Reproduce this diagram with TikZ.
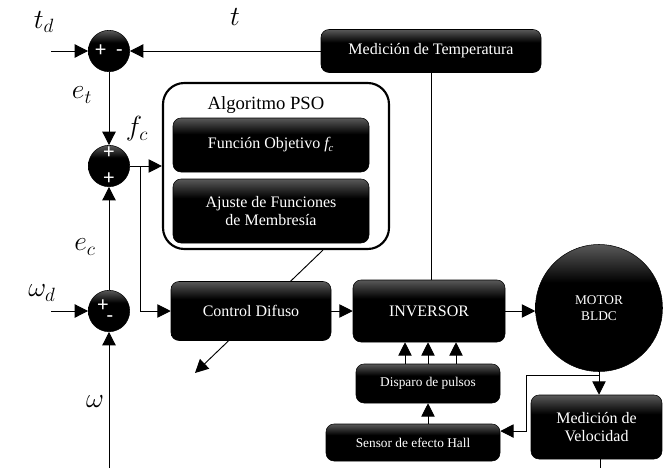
\documentclass[tikz,border=0pt]{standalone}
\usepackage{fontspec}
\setmainfont{Liberation Serif}
\newfontfamily\boxfont{Liberation Serif}
\newfontfamily\signfont{Carlito}
\usetikzlibrary{arrows.meta}
\pgfdeclareverticalshading{blkshade}{100bp}{color(0bp)=(black); color(25bp)=(black); color(60bp)=(black); color(75bp)=(black!65); color(100bp)=(black!65)}

\begin{document}
\begin{tikzpicture}[
  x=0.75pt, y=-0.75pt,
  blk/.style={draw=black, shading=blkshade, rounded corners=6pt, text=white, align=center, inner sep=0pt, font=\boxfont\fontsize{12}{13.5}\selectfont},
  sumnode/.style={circle, draw=black, shading=blkshade, minimum size=31pt, inner sep=0pt, text=white, align=center, font=\signfont\fontsize{16}{19.5}\selectfont},
  lbl/.style={font=\fontsize{20}{22}\selectfont},
  arrow/.style={-{Triangle[length=10pt,width=10pt]}, line width=0.7pt},
  line/.style={line width=0.7pt}
]
\useasboundingbox (0,0) rectangle (663,468);

% sumadores
\node[sumnode] (sum1) at (109,51) {+\hspace{7.5pt}-};
\node[sumnode] (sum2) at (109,166) {+\\+};
\node[sumnode, font=\signfont\fontsize{16}{8.5}\selectfont] (sum3) at (109,311) {+\hspace*{9pt}\\\hspace*{1.5pt}-};

% bloques
\node[blk, minimum width=165pt, minimum height=32.25pt] (temp) at (431,51) {Medici\'on de Temperatura};
\node[draw, line width=1.6pt, rounded corners=16pt, minimum width=169.5pt, minimum height=124.5pt] (pso) at (276,166) {};
\node[font=\boxfont\fontsize{14}{16}\selectfont] (psot) at (266,105) {Algoritmo PSO};
\node[blk, minimum width=147pt, minimum height=40.5pt] (fobj) at (271,145) {Funci\'on Objetivo \textit{f\textsubscript{c}}};
\node[blk, minimum width=147pt, minimum height=48pt] (ajuste) at (271,211) {Ajuste de Funciones\\de Membres\'ia};

\coordinate (adj) at (195,373);
\draw[arrow] ([xshift=35.25pt]pso.south) -- (adj);

\node[blk, minimum width=120pt, minimum height=44.25pt] (cd) at (251,311) {Control Difuso};
\node[blk, minimum width=114pt, minimum height=46.5pt] (inv) at (429,311) {INVERSOR};
\node[circle, draw=black, shading=blkshade, minimum size=95.25pt, inner sep=0pt, text=white, align=center, font=\boxfont\fontsize{10}{12}\selectfont] (motor) at (599,308) {MOTOR\\BLDC};
\node[blk, font=\boxfont\fontsize{10}{12}\selectfont, minimum width=108pt, minimum height=29.25pt] (disp) at (428,383.5) {Disparo de pulsos};
\node[blk, font=\boxfont\fontsize{10}{12}\selectfont, minimum width=130.5pt, minimum height=27.75pt] (sens) at (413,442.5) {Sensor de efecto Hall};
\node[blk, font=\boxfont\fontsize{12}{13}\selectfont, minimum width=98.25pt, minimum height=48pt] (vel) at (596.5,427) {Medici\'on de\\Velocidad};

% etiquetas
\node[lbl] (td) at (44,22) {$t_d$};
\node[lbl] (tl) at (235,17) {$t$};
\node[lbl] (et) at (82,95) {$e_t$};
\node[lbl] (fc) at (137,129) {$f_c$};
\node[lbl] (ec) at (85,247) {$e_c$};
\node[lbl] (wd) at (42,293) {$\omega_d$};
\node[lbl] (wl) at (95,402) {$\omega$};

\coordinate (tdin) at (51,51);
\coordinate (wdin) at (51,311);
\coordinate (wfb) at (109,468);
\coordinate (split) at (140,166);
\coordinate (br) at (599,375);
\coordinate (brl) at (526,375);
\coordinate (velout) at (600,468);

% conexiones
\draw[arrow] (tdin) -- (sum1);
\draw[arrow] (temp) -- (sum1);
\draw[line] (temp.south) -- (temp.south |- inv.north);
\draw[arrow] (sum1) -- (sum2);
\draw[arrow] (sum2) -- (pso);
\draw[arrow] (split) |- (cd);
\draw[arrow] (sum3) -- (sum2);
\draw[arrow] (wfb) -- (sum3);
\draw[arrow] (wdin) -- (sum3);
\draw[arrow] (cd) -- (inv);
\draw[arrow] (inv.east) -- (inv.east -| motor.west);
\foreach \dx in {-17.25pt,0pt,21pt}
  \draw[arrow] ([xshift=\dx]disp.north) -- ([xshift=\dx]disp.north |- inv.south);
\draw[arrow] (disp.south |- sens.north) -- (disp.south);
\draw[arrow] (motor.south) -- (motor.south |- vel.north);
\draw[arrow] (br) -- (brl) |- ([yshift=8.6pt]sens.east);
\draw[line] (vel.south -| velout) -- (velout);
\end{tikzpicture}
\end{document}
